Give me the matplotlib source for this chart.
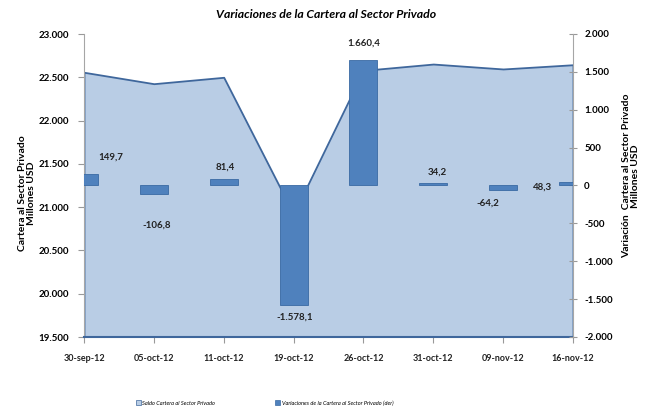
import numpy as np
import matplotlib
matplotlib.use("Agg")
import matplotlib.pyplot as plt
from matplotlib.ticker import FuncFormatter, MultipleLocator
from matplotlib.patches import Patch

plt.rcParams['font.family'] = ['Lato', 'DejaVu Sans']
plt.rcParams['font.weight'] = 'bold'

fechas = ["30-sep-12", "05-oct-12", "11-oct-12", "19-oct-12",
          "26-oct-12", "31-oct-12", "09-nov-12", "16-nov-12"]
saldo = [22558, 22426, 22500, 20921, 22580, 22653, 22596, 22645]
variacion = [149.7, -106.8, 81.4, -1578.1, 1660.4, 34.2, -64.2, 48.3]
# label offsets (points) relative to the end of each bar
lbl_dx = [19, 2, 1, 1, 0, 3, -11, -22]
lbl_dy = [12, -23, 9, -9, 12, 8, -9, -4]

area_fc = "#b9cde5"
area_ec = "#3f679c"
bar_fc = "#4f81bd"
bar_ec = "#3a6aa3"


def miles(v, pos=None):
    s = f"{v:,.0f}"
    return s.replace(",", ".")


def etiqueta(v):
    s = f"{v:,.1f}"
    return s.replace(",", "X").replace(".", ",").replace("X", ".")


fig = plt.figure(figsize=(6.52, 4.11), dpi=100)
ax = fig.add_axes([84 / 652, 1 - 337 / 411, (573 - 84) / 652, (337 - 34) / 411])
x = np.arange(len(fechas))

ax.fill_between(x, saldo, 19500, facecolor=area_fc, edgecolor=area_ec, linewidth=1.3, zorder=1)
ax.set_xlim(0, len(fechas) - 1)
ax.set_ylim(19500, 23000)
ax.yaxis.set_major_locator(MultipleLocator(500))
ax.yaxis.set_major_formatter(FuncFormatter(miles))
ax.set_xticks(x)
ax.set_xticklabels(fechas, fontsize=6.5, color="#222222")
ax.tick_params(axis="y", labelsize=7, length=4, color="#999999", pad=7)
ax.tick_params(axis="x", length=4, color="#999999", pad=8)
ax.spines["top"].set_visible(False)
ax.spines["left"].set_color("#a6a6a6")
ax.spines["right"].set_visible(False)
ax.spines["bottom"].set_color(area_ec)
ax.spines["bottom"].set_linewidth(1.5)

ax2 = ax.twinx()
ax2.bar(x, variacion, width=0.4, color=bar_fc, edgecolor=bar_ec, linewidth=0.6, zorder=3)
ax2.set_xlim(0, len(fechas) - 1)
ax2.set_ylim(-2000, 2000)
ax2.yaxis.set_major_locator(MultipleLocator(500))
ax2.yaxis.set_major_formatter(FuncFormatter(miles))
ax2.tick_params(axis="y", labelsize=7, length=6, direction="inout", color="#999999", pad=5)
for s in ["top", "left", "bottom"]:
    ax2.spines[s].set_visible(False)
ax2.spines["right"].set_color("#a6a6a6")

for i, v in enumerate(variacion):
    ax2.annotate(etiqueta(v), xy=(i, v), xytext=(lbl_dx[i], lbl_dy[i]),
                 textcoords="offset points", ha="center", va="center",
                 fontsize=7, color="#222222", annotation_clip=False)

fig.text(326 / 652, 1 - 15 / 411, "Variaciones de la Cartera al Sector Privado",
         ha="center", va="center", fontsize=8.8, style="italic")
fig.text(27 / 652, 1 - 193 / 411, "Cartera al Sector Privado\nMillones USD",
         rotation=90, ha="center", va="center", fontsize=7.5,
         multialignment="center", linespacing=1.1)
fig.text(631 / 652, 1 - 176 / 411, "Variación  Cartera al Sector Privado\nMillones USD",
         rotation=90, ha="center", va="center", fontsize=7.5,
         multialignment="center", linespacing=1.1)

handles = [Patch(facecolor=area_fc, edgecolor=area_ec, linewidth=0.5),
           Patch(facecolor=bar_fc, edgecolor=bar_ec, linewidth=0.5)]
fig.legend(handles, ["Saldo Cartera al Sector Privado",
                     "Variaciones de la Cartera al Sector Privado (der)"],
           loc="center", bbox_to_anchor=(264.5 / 652, 1 - 403 / 411), ncol=2,
           frameon=False, prop={"size": 4.1, "style": "italic", "weight": "normal"},
           handlelength=0.9, handleheight=0.9, handletextpad=0.3, columnspacing=10.5)

fig.savefig("out.png", dpi=100)
